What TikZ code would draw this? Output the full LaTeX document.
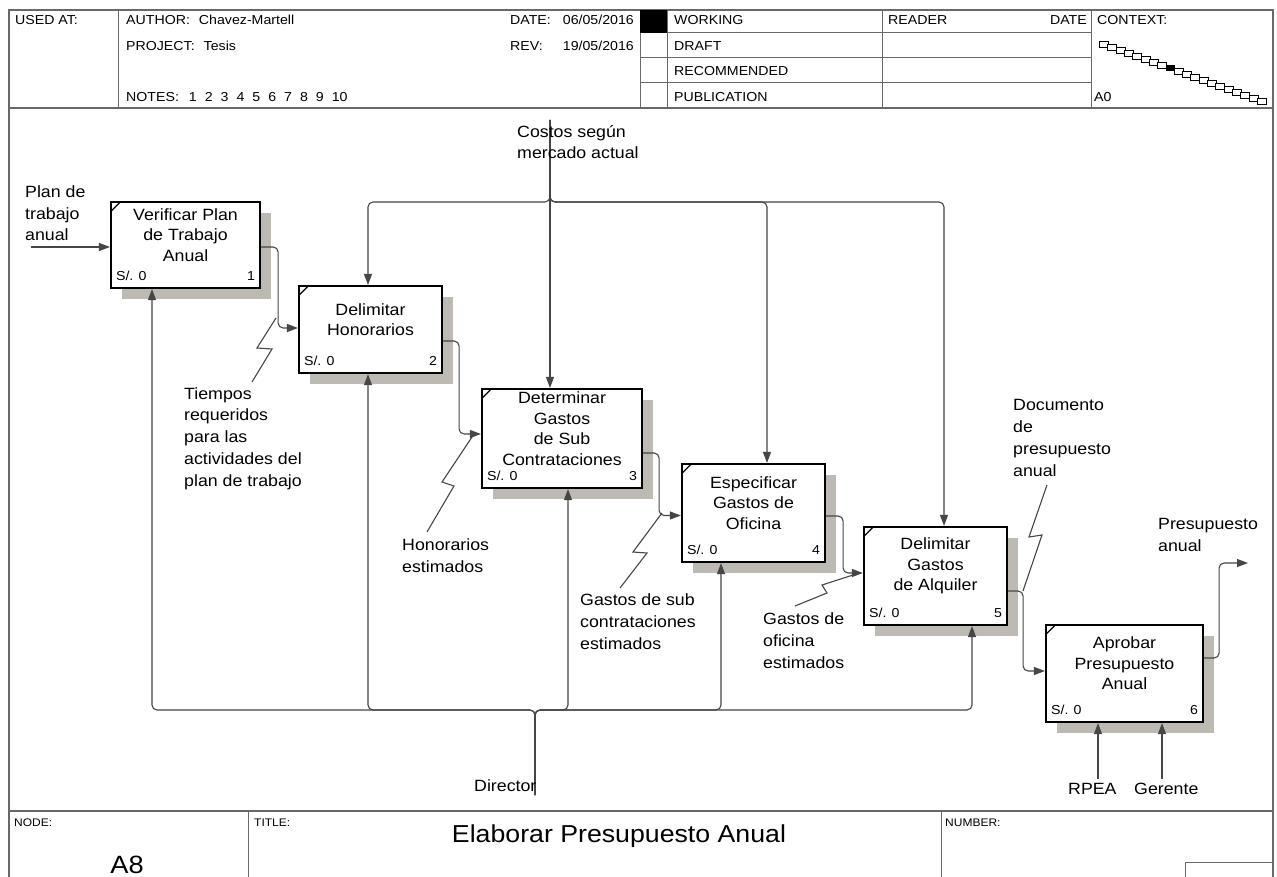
\documentclass[tikz,border=0pt]{standalone}
\usepackage{fontspec}
\setmainfont{Liberation Sans}[FakeStretch=1.09]
\usetikzlibrary{arrows.meta,calc}

\definecolor{shadowgray}{RGB}{188,186,178}
\definecolor{linegray}{RGB}{70,70,70}
\definecolor{framegray}{RGB}{105,105,105}

% Activity box: name, centre x, centre y, width, height, title, box number
\newcommand\idefbox[7]{%
  \node[fill=shadowgray, inner sep=0pt, minimum width=#4pt, minimum height=#5pt] at ($(#2,#3)+(11,11)$) {};
  \node[actbox, minimum width=#4pt, minimum height=#5pt] (#1) at (#2,#3) {};
  \draw[line width=1.3pt] ($(#1.north west)+(1.5,10)$) -- ($(#1.north west)+(10,1.5)$);
  \node[acttext] at ($(#1.center)+(0,-10)$) {#6};
  \node[costtext] at ($(#1.south west)+(6,-9)$) {S/. 0};
  \node[numtext] at ($(#1.south east)+(-6,-9)$) {#7};
}

\begin{document}
\begin{tikzpicture}[x=1pt,y=-1pt,
  frame/.style={draw=framegray, line width=1.5pt},
  rule/.style={draw=framegray, line width=1pt},
  hdr/.style={anchor=base west, inner sep=0pt, font=\fontsize{13}{15}\selectfont},
  hdrr/.style={anchor=base east, inner sep=0pt, font=\fontsize{13}{15}\selectfont},
  ftr/.style={anchor=base west, inner sep=0pt, font=\fontsize{11}{13}\selectfont},
  actbox/.style={draw=black, line width=2.2pt, fill=white, rectangle, inner sep=0pt},
  acttext/.style={align=center, inner sep=0pt, font=\fontsize{16.3}{20.5}\selectfont},
  costtext/.style={anchor=base west, inner sep=0pt, font=\fontsize{13}{15}\selectfont},
  numtext/.style={anchor=base east, inner sep=0pt, font=\fontsize{13}{15}\selectfont},
  % multi-line labels are placed by the baseline of their last line
  arrowlabel/.style={align=left, anchor=base west, inner sep=0pt, font=\fontsize{16.3}{21.7}\selectfont},
  flow/.style={draw=linegray, line width=1.1pt, rounded corners=5pt, -{Triangle[length=11pt,width=8pt]}},
  squig/.style={draw=linegray, line width=1.1pt},
]
\useasboundingbox (0,0) rectangle (1277,877);
\fill[white] (0,0) rectangle (1277,877);

% ---------- form frame ----------
\draw[frame] (9,877) -- (9,10) -- (1273,10) -- (1273,877);
\draw[frame] (9,108) -- (1273,108);
\draw[frame] (9,811) -- (1273,811);

% header columns and status rows
\draw[rule] (118,10) -- (118,108);
\draw[rule] (640,10) -- (640,108);
\draw[rule] (667,10) -- (667,108);
\draw[rule] (882,10) -- (882,108);
\draw[rule] (1091,10) -- (1091,108);
\foreach \yy in {33,58,83} \draw[rule] (640,\yy) -- (1091,\yy);
\fill[black] (640,10) rectangle (667,33);

\node[hdr] (usedat) at (15,24.5) {USED AT:};
\node[hdr] (author) at (126,24.5) {AUTHOR:\hspace{9pt}Chavez-Martell};
\node[hdr] (project) at (126,50.5) {PROJECT:\hspace{9pt}Tesis};
\node[hdr] (notes) at (126,101.5) {NOTES:\hspace{10pt}1\hspace{8pt}2\hspace{8pt}3\hspace{8pt}4\hspace{8pt}5\hspace{8pt}6\hspace{8pt}7\hspace{8pt}8\hspace{8pt}9\hspace{8pt}10};
\node[hdr] (datek) at (510,24.5) {DATE:};
\node[hdrr] (datev) at (634,24.5) {06/05/2016};
\node[hdr] (revk) at (510,50.5) {REV:};
\node[hdrr] (revv) at (634,50.5) {19/05/2016};
\node[hdr] (working) at (674,24.5) {WORKING};
\node[hdr] (draft) at (674,50.5) {DRAFT};
\node[hdr] (recom) at (674,75.5) {RECOMMENDED};
\node[hdr] (publ) at (674,101.5) {PUBLICATION};
\node[hdr] (reader) at (888,24.5) {READER};
\node[hdrr] (rdate) at (1087,24.5) {DATE};
\node[hdr] (context) at (1097,24.5) {CONTEXT:};
\node[hdr] (azero) at (1094,101.5) {A0};

% context strip of sibling diagrams
\foreach \i in {0,...,19} {
  \pgfmathsetmacro\cx{1104+\i*8.3}
  \pgfmathsetmacro\cy{44+\i*3.0}
  \ifnum\i=8
    \fill[black] (\cx-4.5,\cy-3) rectangle (\cx+4.5,\cy+3);
  \else
    \draw[line width=0.7pt, fill=white] (\cx-4.5,\cy-3) rectangle (\cx+4.5,\cy+3);
  \fi
}

% footer
\draw[rule] (248,811) -- (248,877);
\draw[rule] (941,811) -- (941,877);
\draw[rule] (1185,877) -- (1185,862) -- (1273,862);
\node[ftr] (nodek) at (14,826) {NODE:};
\node[ftr] (titlek) at (254,826) {TITLE:};
\node[ftr] (numk) at (945,826) {NUMBER:};
\node[inner sep=0pt, font=\fontsize{25}{28}\selectfont] (nodeid) at (127,865) {A8};
\node[inner sep=0pt, font=\fontsize{24.5}{28}\selectfont] (title) at (619,836) {Elaborar Presupuesto Anual};

% ---------- activities ----------
\idefbox{b1}{185.5}{245}{149}{86}{Verificar Plan\\de Trabajo\\Anual}{1}
\idefbox{b2}{370.5}{329.5}{143}{87}{Delimitar\\Honorarios}{2}
\idefbox{b3}{562}{438.5}{160}{99}{Determinar\\Gastos\\de Sub\\Contrataciones}{3}
\idefbox{b4}{753.5}{513}{143}{98}{Especificar\\Gastos de\\Oficina}{4}
\idefbox{b5}{935.5}{576}{143}{98}{Delimitar\\Gastos\\de Alquiler}{5}
\idefbox{b6}{1124.5}{673.5}{157}{97}{Aprobar\\Presupuesto\\Anual}{6}

% ---------- input ----------
\coordinate (in1) at (31,247);
\draw[flow] (in1) -- ([yshift=-2pt]b1.west);
\node[arrowlabel] (lplan) at (25,241) {Plan de\\trabajo\\anual};

% ---------- outputs feeding the next activity ----------
\draw[flow] ([yshift=-2pt]b1.east) -- ++(17,0) |- ([yshift=1.5pt]b2.west);
\draw[flow] ([yshift=-11.5pt]b2.east) -- ++(16,0) |- ([yshift=4.5pt]b3.west);
\draw[flow] ([yshift=-14.5pt]b3.east) -- ++(16,0) |- ([yshift=-2.5pt]b4.west);
\draw[flow] ([yshift=-3pt]b4.east) -- ++(17,0) |- ([yshift=3pt]b5.west);
\draw[flow] ([yshift=-15pt]b5.east) -- ++(15,0) |- ([yshift=2.5pt]b6.west);
\coordinate (out6) at (1248,563);
\draw[flow] ([yshift=15.5pt]b6.east) -- ++(15,0) |- (out6);
\node[arrowlabel] (lpresu) at (1158,551) {Presupuesto\\anual};

% arrow labels with squiggles
\node[arrowlabel] (ltiempos) at (184,486) {Tiempos\\requeridos\\para las\\actividades del\\plan de trabajo};
\draw[squig] (276,318) -- (257,348) -- (272,349) -- (252,382);
\node[arrowlabel] (lhonor) at (402,572) {Honorarios\\estimados};
\draw[squig] (472,437) -- (442,482) -- (454,486) -- (427,532);
\node[arrowlabel] (lgsub) at (580,649) {Gastos de sub\\contrataciones\\estimados};
\draw[squig] (662,513) -- (633,552) -- (647,553) -- (620,588);
\node[arrowlabel] (lgofi) at (763,668) {Gastos de\\oficina\\estimados};
\draw[squig] (853,575) -- (822,585) -- (827,593) -- (795,606);
\node[arrowlabel] (ldocu) at (1013,476) {Documento\\de\\presupuesto\\anual};
\draw[squig] (1023,591) -- (1042,535) -- (1029,537) -- (1047,485);

% ---------- controls ----------
\coordinate (ctl) at (550,120);
\coordinate (cj) at (550,202);
\draw[flow] (ctl) -- ([xshift=-12pt]b3.north);
\draw[flow] (ctl) -- (cj) -| ([xshift=-2.5pt]b2.north);
\draw[flow] (ctl) -- (cj) -| ([xshift=13.5pt]b4.north);
\draw[flow] (ctl) -- (cj) -| ([xshift=8.5pt]b5.north);
\node[arrowlabel] (lcostos) at (517,159) {Costos según\\mercado actual};

% ---------- mechanisms ----------
\coordinate (mech) at (535,795);
\coordinate (mj) at (535,710);
\draw[flow] (mech) -- (mj) -| ([xshift=-33.5pt]b1.south);
\draw[flow] (mech) -- (mj) -| ([xshift=-2.5pt]b2.south);
\draw[flow] (mech) -- (mj) -| ([xshift=6pt]b3.south);
\draw[flow] (mech) -- (mj) -| ([xshift=-32.5pt]b4.south);
\draw[flow] (mech) -- (mj) -| ([xshift=36.5pt]b5.south);
\node[arrowlabel] (ldirector) at (474,791) {Director};

\coordinate (rpea) at (1098,779);
\coordinate (ger) at (1162,779);
\draw[flow] (rpea) -- ([xshift=-26.5pt]b6.south);
\draw[flow] (ger) -- ([xshift=37.5pt]b6.south);
\node[arrowlabel] (lrpea) at (1068,794) {RPEA};
\node[arrowlabel] (lger) at (1134,794) {Gerente};

\end{tikzpicture}
\end{document}
